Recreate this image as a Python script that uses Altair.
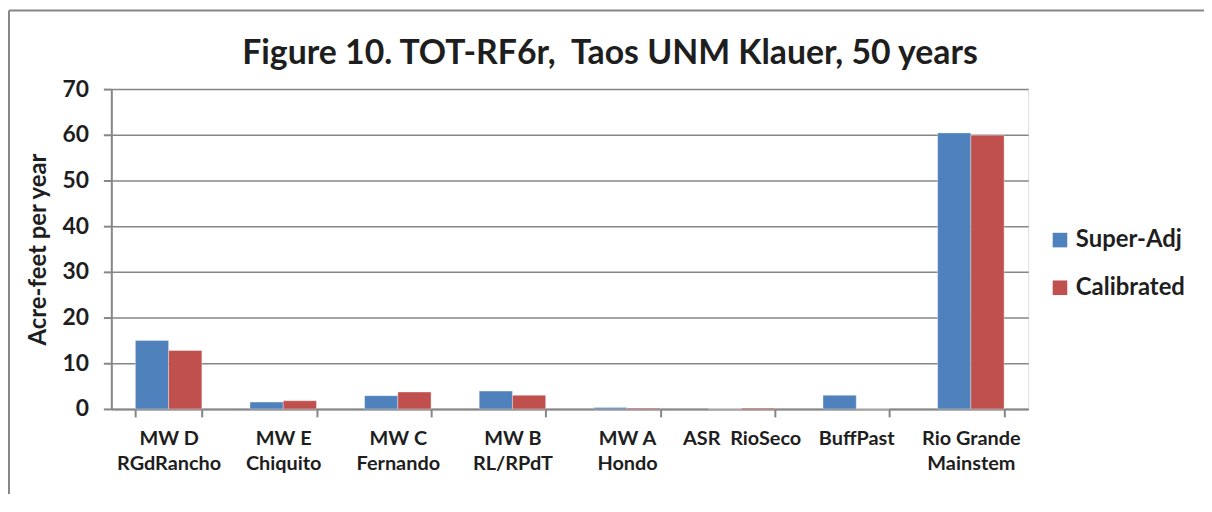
import altair as alt
import pandas as pd

categories = ["MW D\nRGdRancho", "MW E\nChiquito", "MW C\nFernando", "MW B\nRL/RPdT",
              "MW A\nHondo", "ASR\u00a0 RioSeco", "BuffPast", "Rio Grande\nMainstem"]
super_adj = [15.0, 1.5, 2.9, 3.9, 0.3, 0.0, 3.0, 60.4]
calibrated = [12.8, 1.8, 3.7, 3.0, 0.2, 0.2, 0.0, 59.9]
series = ["Super-Adj", "Calibrated"]
colors = ["#4F81BD", "#C0504D"]
title_text = "Figure 10. TOT-RF6r,\u00a0 Taos UNM Klauer, 50 years"

rows = []
for c, a, b in zip(categories, super_adj, calibrated):
    rows.append({"cat": c, "series": series[0], "value": a})
    rows.append({"cat": c, "series": series[1], "value": b})
df = pd.DataFrame(rows)

FONT = "Lato"
GRAY = "#868686"
TXT = "#1e1e1e"

bars = alt.Chart(df).mark_bar(stroke="#ffffff", strokeOpacity=0.35, strokeWidth=1).encode(
    x=alt.X("cat:N", sort=categories, title=None,
            scale=alt.Scale(paddingInner=0.42, paddingOuter=0.21),
            axis=alt.Axis(labelAngle=0, labelExpr="split(datum.label, '\\n')",
                          labelLineHeight=25, labelFontSize=20, labelFont=FONT,
                          labelFontWeight="bold", labelColor=TXT, labelPadding=12,
                          tickBand="extent", ticks=True, tickSize=8, tickColor=GRAY,
                          tickWidth=2, domainColor=GRAY, domainWidth=2, grid=False,
                          labelBaseline="top")),
    xOffset=alt.XOffset("series:N", sort=series),
    y=alt.Y("value:Q", title="Acre-feet per year",
            scale=alt.Scale(domain=[0, 70], nice=False),
            axis=alt.Axis(values=[0, 10, 20, 30, 40, 50, 60, 70], labelFontSize=23,
                          labelFont=FONT, labelFontWeight="bold", labelColor=TXT,
                          labelPadding=15, tickSize=8, tickColor=GRAY, tickWidth=2,
                          domainColor=GRAY, domainWidth=2, gridColor=GRAY, gridWidth=1.5,
                          titleFont=FONT, titleFontSize=24, titleFontWeight="bold",
                          titleColor=TXT, titlePadding=12)),
    color=alt.Color("series:N", sort=series,
                    scale=alt.Scale(domain=series, range=colors),
                    legend=alt.Legend(title=None, orient="none", legendX=943, legendY=140,
                                      symbolType="square", symbolSize=215,
                                      symbolStrokeWidth=0, labelFont=FONT,
                                      labelFontSize=24, labelFontWeight="bold",
                                      labelColor=TXT, labelOffset=4, rowPadding=24)),
)

title_mark = alt.Chart(alt.Data(values=[{}])).mark_text(
    font=FONT, fontSize=34, fontWeight="bold", color=TXT, align="center",
    baseline="alphabetic").encode(
    text=alt.value(title_text), x=alt.value(502), y=alt.value(-25))

left_border = alt.Chart(alt.Data(values=[{}])).mark_rule(color=GRAY, strokeWidth=2).encode(
    x=alt.value(-103), y=alt.value(-79), y2=alt.value(420))
top_border = alt.Chart(alt.Data(values=[{}])).mark_rule(color=GRAY, strokeWidth=2).encode(
    x=alt.value(-103), x2=alt.value(1110), y=alt.value(-79))

chart = alt.layer(bars, title_mark, left_border, top_border).properties(
    width=923, height=322,
    autosize=alt.AutoSizeParams(type="none"),
    padding={"left": 104, "top": 80, "right": 177, "bottom": 84},
).configure_view(strokeWidth=0).configure(background="white")

chart.save("out.html", embed_options={"renderer": "svg", "actions": False})
